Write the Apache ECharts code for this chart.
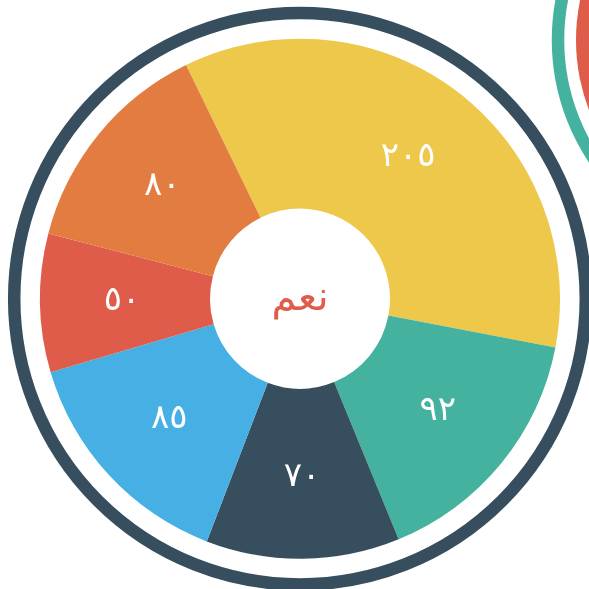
<!DOCTYPE html>
<html>
<head>
<meta charset="utf-8">
<script src="https://cdn.jsdelivr.net/npm/echarts@6/dist/echarts.min.js"></script>
<style>
  html, body { margin: 0; padding: 0; background: #fff; }
  #main { width: 589px; height: 589px; }
</style>
</head>
<body>
<div id="main"></div>
<script>
// 数据
var names = ['a', 'b', 'c', 'd', 'e', 'f'];
var values = [205, 92, 70, 85, 50, 80];
var labels = ['٢٠٥', '٩٢', '٧٠', '٨٥', '٥٠', '٨٠'];
var colors = ['#EEC84B', '#44B29E', '#364E5D', '#46B0E4', '#E05C4A', '#E37C40'];
var centerText = 'نعم';

var chart = echarts.init(document.getElementById('main'));

var pieData = values.map(function (v, i) {
  return { name: names[i], value: v, itemStyle: { color: colors[i] } };
});

var option = {
  animation: false,
  graphic: [
    // 外圈
    {
      type: 'circle',
      shape: { cx: 300, cy: 298.7, r: 285.8 },
      style: { fill: 'none', stroke: '#364E5D', lineWidth: 12.5 },
      silent: true
    },
    // 右上角另一个图（部分可见）
    {
      type: 'circle',
      shape: { cx: 772, cy: 40, r: 214 },
      style: { fill: 'none', stroke: '#44B29E', lineWidth: 12.5 },
      silent: true
    },
    {
      type: 'circle',
      shape: { cx: 772, cy: 40, r: 196 },
      style: { fill: '#E05C4A' },
      silent: true
    },
    // 中心文字
    {
      type: 'text',
      x: 300,
      y: 300,
      style: {
        text: centerText,
        fill: '#E05C4A',
        font: '40px "DejaVu Sans", sans-serif',
        align: 'center',
        verticalAlign: 'middle'
      },
      silent: true
    }
  ],
  series: [
    {
      type: 'pie',
      center: [300, 298.7],
      radius: [90, 260],
      startAngle: 116,
      clockwise: true,
      avoidLabelOverlap: false,
      itemStyle: { borderWidth: 0 },
      label: {
        show: true,
        position: 'inside',
        color: '#fff',
        fontSize: 34,
        fontFamily: '"DejaVu Sans", sans-serif',
        formatter: function (p) { return labels[p.dataIndex]; }
      },
      labelLine: { show: false },
      emphasis: { disabled: true },
      data: pieData
    }
  ]
};

chart.setOption(option);
</script>
</body>
</html>
